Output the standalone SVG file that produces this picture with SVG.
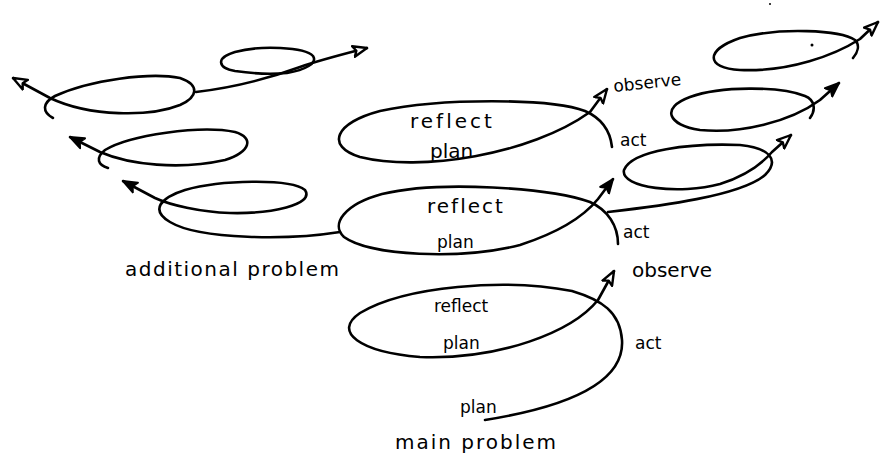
<svg xmlns="http://www.w3.org/2000/svg" width="880" height="460" viewBox="0 0 880 460">
  <style>
    .loop { fill: none; stroke: #000; stroke-width: 2.6; stroke-linecap: round; stroke-linejoin: round; }
    .lbl { font-family: "DejaVu Sans", "Liberation Sans", sans-serif; fill: #000; }
    .big { font-size: 20px; }
    .mid { font-size: 17px; }
  </style>
  <defs>
    <marker id="open" viewBox="0 0 16 14" refX="15" refY="7" markerWidth="16" markerHeight="14" markerUnits="userSpaceOnUse" orient="auto">
      <polygon points="1,1.5 15,7 1,12.5 4,7" fill="#fff" stroke="#000" stroke-width="2.4" stroke-linejoin="round"/>
    </marker>
    <marker id="solid" viewBox="0 0 16 14" refX="15" refY="7" markerWidth="16" markerHeight="14" markerUnits="userSpaceOnUse" orient="auto">
      <polygon points="1,1.5 15,7 1,12.5 4,7" fill="#000" stroke="#000" stroke-width="2" stroke-linejoin="round"/>
    </marker>
  </defs>

  <rect width="880" height="460" fill="#fff"/>

  <g id="connectors">
    <!-- main problem cycle -->
    <path class="loop" marker-end="url(#open)" d="M 485 420 C 560 408, 625 385, 622 340 C 620 312, 602 300, 572 291 C 505 278, 405 286, 360 313 C 332 332, 360 352, 420 357 C 500 360, 572 332, 598 300 L 614 271"/>
    <!-- middle cycle -->
    <path class="loop" marker-end="url(#solid)" d="M 618 244 C 618 226, 608 210, 590 202 C 550 188, 440 180, 382 194 C 345 204, 330 224, 344 237 C 370 256, 460 260, 520 245 C 560 232, 585 215, 598 199 L 613 179"/>
    <!-- upper middle cycle -->
    <path class="loop" marker-end="url(#open)" d="M 612 147 C 610 129, 601 118, 585 111 C 550 98, 440 98, 380 111 C 335 123, 325 146, 360 157 C 420 172, 530 155, 590 112 L 607 89"/>
    <!-- branch to the right -->
    <path class="loop" marker-end="url(#open)" d="M 608 212 C 660 206, 740 196, 765 175 C 780 160, 770 148, 740 145 C 690 143, 632 150, 624 170 C 620 188, 680 195, 720 184 C 745 176, 760 166, 772 152 L 791 135"/>
    <path class="loop" marker-end="url(#solid)" d="M 810 118 C 816 110, 815 100, 805 96 C 780 86, 720 86, 690 97 C 660 108, 668 125, 700 130 C 740 134, 790 122, 820 100 L 839 83"/>
    <path class="loop" marker-end="url(#open)" d="M 853 58 C 858 52, 860 45, 855 40 C 840 30, 780 27, 740 38 C 705 50, 705 68, 740 70 C 790 72, 835 55, 860 39 L 878 22"/>
    <!-- branch to the left -->
    <path class="loop" marker-end="url(#solid)" d="M 340 232 C 290 240, 200 240, 170 222 C 150 210, 160 198, 185 190 C 220 180, 290 178, 305 190 C 315 205, 270 214, 230 213 C 200 212, 170 205, 155 198 L 123 181"/>
    <path class="loop" marker-end="url(#solid)" d="M 108 168 C 98 165, 95 158, 105 150 C 130 135, 200 125, 235 132 C 255 138, 250 152, 225 160 C 180 170, 130 165, 100 152 L 70 137"/>
    <path class="loop" marker-end="url(#open)" d="M 53 118 C 42 112, 42 103, 55 96 C 90 80, 150 72, 180 78 C 200 85, 198 97, 180 105 C 150 117, 90 117, 50 98 L 13 78"/>
    <path class="loop" marker-end="url(#open)" d="M 196 92 C 230 88, 270 78, 300 67 C 320 60, 340 55, 367 48"/>
    <path class="loop" d="M 287 73 C 305 70, 318 63, 313 56 C 305 47, 260 45, 235 52 C 215 58, 218 68, 235 71 C 255 74, 275 74, 287 73"/>
    <!-- pencil specks -->
    <circle cx="812" cy="45" r="1.5" fill="#000"/>
    <circle cx="770" cy="4" r="1" fill="#000"/>
  </g>

  <g id="main-problem">
    <text class="lbl mid" x="434" y="312">reflect</text>
    <text class="lbl mid" x="443" y="349">plan</text>
    <text class="lbl big" x="632" y="277">observe</text>
    <text class="lbl mid" x="635" y="349">act</text>
    <text class="lbl mid" x="460" y="413">plan</text>
    <text class="lbl big" x="395" y="449" letter-spacing="2">main problem</text>
  </g>

  <g id="middle-cycle">
    <text class="lbl big" x="427" y="213" letter-spacing="2">reflect</text>
    <text class="lbl mid" x="437" y="248">plan</text>
    <text class="lbl mid" x="623" y="238">act</text>
    <text class="lbl big" x="125" y="276" letter-spacing="1.5">additional problem</text>
  </g>

  <g id="upper-cycle">
    <text class="lbl big" x="410" y="128" letter-spacing="3">reflect</text>
    <text class="lbl big" x="430" y="158">plan</text>
    <text class="lbl mid" x="614" y="92" transform="rotate(-6 614 92)">observe</text>
    <text class="lbl mid" x="620" y="146">act</text>
  </g>
</svg>
